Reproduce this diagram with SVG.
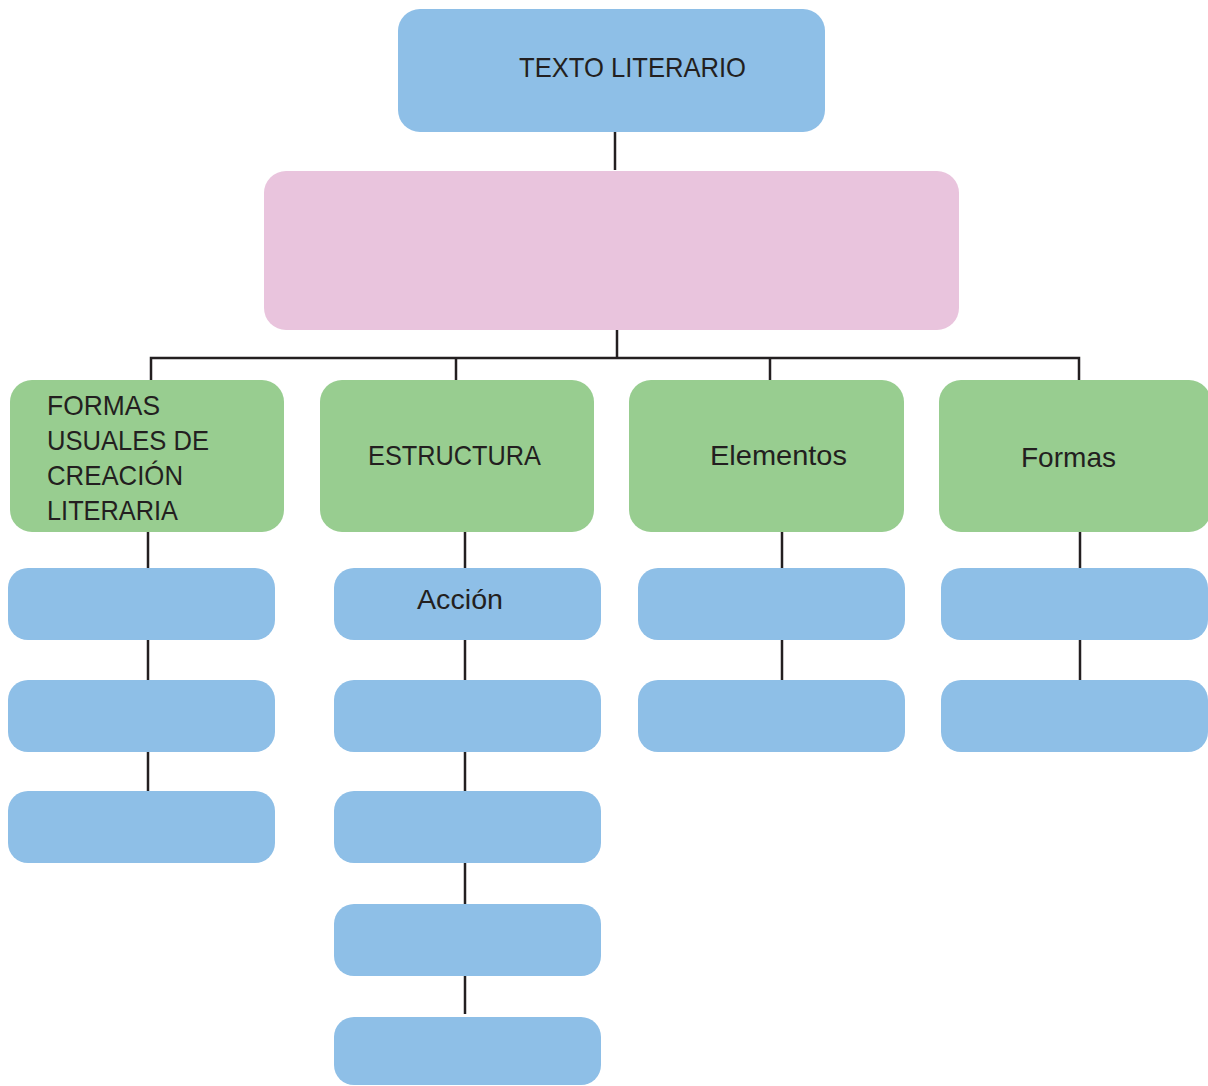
<svg xmlns="http://www.w3.org/2000/svg" width="1208" height="1086" viewBox="0 0 1208 1086">
<style>
.blue{fill:#8EBFE7}
.pink{fill:#E9C4DD}
.green{fill:#98CD90}
.t{font-family:"Liberation Sans",Arial,sans-serif;font-size:28px;fill:#231F20}
.c{stroke:#231F20;stroke-width:2.5;fill:none}
</style>
<rect width="1208" height="1086" fill="#fff"/>
<g id="connectors">
<line class="c" x1="615" y1="132" x2="615" y2="170"/>
<line class="c" x1="617" y1="330" x2="617" y2="358"/>
<polyline class="c" points="151,380 151,358 1079,358 1079,380"/>
<line class="c" x1="456" y1="358" x2="456" y2="380"/>
<line class="c" x1="770" y1="358" x2="770" y2="380"/>
<line class="c" x1="148" y1="532" x2="148" y2="568"/>
<line class="c" x1="148" y1="640" x2="148" y2="680"/>
<line class="c" x1="148" y1="752" x2="148" y2="791"/>
<line class="c" x1="465" y1="532" x2="465" y2="568"/>
<line class="c" x1="465" y1="640" x2="465" y2="680"/>
<line class="c" x1="465" y1="752" x2="465" y2="791"/>
<line class="c" x1="465" y1="863" x2="465" y2="904"/>
<line class="c" x1="465" y1="976" x2="465" y2="1014"/>
<line class="c" x1="782" y1="532" x2="782" y2="568"/>
<line class="c" x1="782" y1="640" x2="782" y2="680"/>
<line class="c" x1="1080" y1="532" x2="1080" y2="568"/>
<line class="c" x1="1080" y1="640" x2="1080" y2="680"/>
</g>
<g id="n-texto"><rect class="blue" x="398" y="9" width="427" height="123" rx="22"/><text class="t" x="519" y="77" textLength="227" lengthAdjust="spacingAndGlyphs">TEXTO LITERARIO</text></g>
<g id="n-pink"><rect class="pink" x="264" y="171" width="695" height="159" rx="22"/></g>
<g id="n-formas-usuales"><rect class="green" x="10" y="380" width="274" height="152" rx="22"/>
<text class="t" x="47" y="415" textLength="113" lengthAdjust="spacingAndGlyphs">FORMAS</text>
<text class="t" x="47" y="450" textLength="162" lengthAdjust="spacingAndGlyphs">USUALES DE</text>
<text class="t" x="47" y="485" textLength="136" lengthAdjust="spacingAndGlyphs">CREACIÓN</text>
<text class="t" x="47" y="520" textLength="131" lengthAdjust="spacingAndGlyphs">LITERARIA</text></g>
<g id="n-estructura"><rect class="green" x="320" y="380" width="274" height="152" rx="22"/><text class="t" x="368" y="465" textLength="173" lengthAdjust="spacingAndGlyphs">ESTRUCTURA</text></g>
<g id="n-elementos"><rect class="green" x="629" y="380" width="275" height="152" rx="22"/><text class="t" x="710" y="465" textLength="137" lengthAdjust="spacingAndGlyphs">Elementos</text></g>
<g id="n-formas"><rect class="green" x="939" y="380" width="272" height="152" rx="22"/><text class="t" x="1021" y="467" textLength="95" lengthAdjust="spacingAndGlyphs">Formas</text></g>
<g id="n-c1a"><rect class="blue" x="8" y="568" width="267" height="72" rx="20"/></g>
<g id="n-c1b"><rect class="blue" x="8" y="680" width="267" height="72" rx="20"/></g>
<g id="n-c1c"><rect class="blue" x="8" y="791" width="267" height="72" rx="20"/></g>
<g id="n-accion"><rect class="blue" x="334" y="568" width="267" height="72" rx="20"/><text class="t" x="417" y="609" textLength="86" lengthAdjust="spacingAndGlyphs">Acción</text></g>
<g id="n-c2b"><rect class="blue" x="334" y="680" width="267" height="72" rx="20"/></g>
<g id="n-c2c"><rect class="blue" x="334" y="791" width="267" height="72" rx="20"/></g>
<g id="n-c2d"><rect class="blue" x="334" y="904" width="267" height="72" rx="20"/></g>
<g id="n-c2e"><rect class="blue" x="334" y="1017" width="267" height="68" rx="20"/></g>
<g id="n-c3a"><rect class="blue" x="638" y="568" width="267" height="72" rx="20"/></g>
<g id="n-c3b"><rect class="blue" x="638" y="680" width="267" height="72" rx="20"/></g>
<g id="n-c4a"><rect class="blue" x="941" y="568" width="267" height="72" rx="20"/></g>
<g id="n-c4b"><rect class="blue" x="941" y="680" width="267" height="72" rx="20"/></g>
</svg>
